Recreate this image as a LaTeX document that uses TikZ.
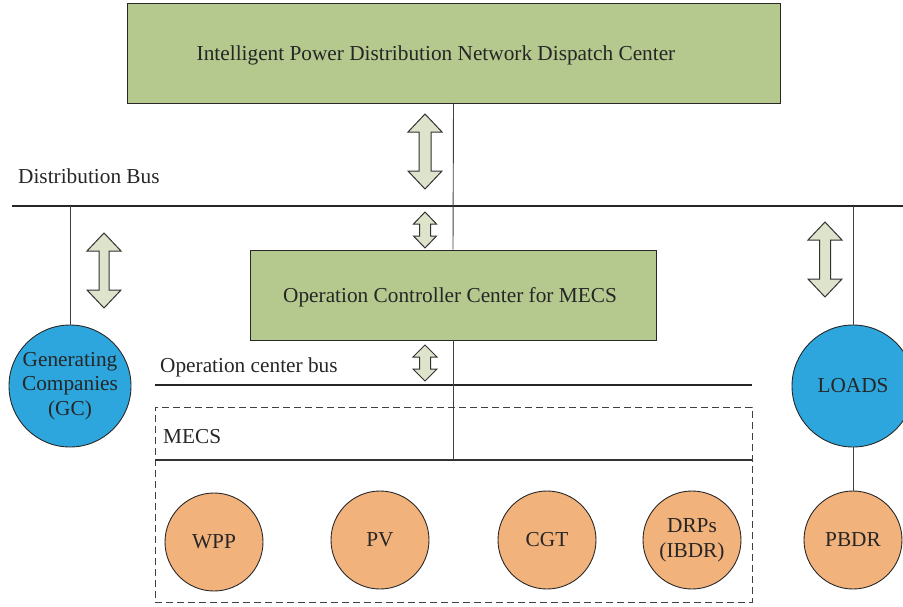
\documentclass[tikz,border=0pt]{standalone}
\usepackage{fontspec}
\setmainfont{Liberation Serif}
\definecolor{boxgreen}{RGB}{181,201,142}
\definecolor{gcblue}{RGB}{45,166,221}
\definecolor{unitorange}{RGB}{242,178,124}
\definecolor{arrowfill}{RGB}{222,227,203}
\definecolor{edge}{RGB}{40,40,40}
% double-headed block arrow: x, top y, bottom y, head half-width, shaft half-width, head length
\newcommand\blockarrow[6]{%
  \draw[arrowshape] (#1,#2) -- (#1+#4,#2+#6) -- (#1+#5,#2+#6) -- (#1+#5,#3-#6)
    -- (#1+#4,#3-#6) -- (#1,#3) -- (#1-#4,#3-#6) -- (#1-#5,#3-#6)
    -- (#1-#5,#2+#6) -- (#1-#4,#2+#6) -- cycle;}
\begin{document}
\begin{tikzpicture}[x=1pt,y=-1pt,
  centerbox/.style={draw=edge,line width=0.9pt,fill=boxgreen,inner sep=0pt},
  bigcircle/.style={circle,draw=edge,line width=0.9pt,fill=gcblue,minimum size=122pt,inner sep=0pt,align=center,font=\fontsize{21.3}{24.5}\selectfont,text=black!85},
  unit/.style={circle,draw=edge,line width=0.9pt,fill=unitorange,minimum size=98pt,inner sep=0pt,align=center,font=\fontsize{21.3}{25}\selectfont,text=black!85},
  busline/.style={line width=1.8pt,black!85},
  link/.style={line width=0.9pt,black!75},
  arrowshape/.style={draw=black!80,line width=1pt,fill=arrowfill,line join=miter},
  label/.style={font=\fontsize{21.3}{25}\selectfont,text=black!85,inner sep=0pt}]
\useasboundingbox (0,0) rectangle (903,606);

% control centres
\node[centerbox,minimum width=653pt,minimum height=100pt] (dispatch) at (453.5,53) {};
\node[label] (dispatchtext) at (436,55.5) {Intelligent Power Distribution Network Dispatch Center};
\node[centerbox,minimum width=406pt,minimum height=90pt] (ops) at (453,295) {};
\node[label] (opstext) at (450,297.5) {Operation Controller Center for MECS};

% buses
\coordinate (db-l) at (12,206);
\coordinate (db-r) at (903,206);
\draw[busline] (db-l) -- (db-r);
\node[label,anchor=base west] (dblabel) at (18,183) {Distribution Bus};

\coordinate (ob-l) at (155,385);
\coordinate (ob-r) at (752,385);
\draw[busline] (ob-l) -- (ob-r);
\node[label,anchor=base west] (oblabel) at (160,372) {Operation center bus};

% MECS area
\node[draw=black!75,dashed,dash pattern=on 7pt off 4pt,line width=0.9pt,minimum width=597pt,minimum height=195pt,inner sep=0pt] (mecs) at (453.5,504.5) {};
\node[label,anchor=base west] (mecslabel) at (163,443) {MECS};
\coordinate (mb-l) at (155,460);
\coordinate (mb-r) at (752,460);
\coordinate (mb-c) at (453,460);
\draw[link,line width=1.2pt,black!80] (mb-l) -- (mb-r);

% side entities
\node[bigcircle] (gc) at (70,386) {Generating\\Companies\\(GC)};
\node[bigcircle] (loads) at (853,386) {LOADS};
\node[unit] (pbdr) at (853,540) {PBDR};

% units inside MECS
\node[unit] (wpp) at (214,542) {WPP};
\node[unit] (pv) at (380,540) {PV};
\node[unit] (cgt) at (547,540) {CGT};
\node[unit] (drp) at (692,540) {DRPs\\(IBDR)};

% connections
\coordinate (gc-tap) at (70,206);
\coordinate (ld-tap) at (853,206);
\draw[link] (dispatch.south) -- (ops.north);
\draw[link] (ops.south) -- (mb-c);
\draw[link] (gc-tap) -- (gc.north);
\draw[link] (ld-tap) -- (loads.north);
\draw[link] (loads.south) -- (pbdr.north);

% information exchange arrows
\blockarrow{425}{114}{189}{17}{6}{18}
\blockarrow{425}{212}{248}{11.5}{5.5}{12}
\blockarrow{425}{345}{381}{12}{5.5}{12}
\blockarrow{104}{233}{308}{17}{5}{18}
\blockarrow{825}{222}{297}{17}{5.5}{18}
\end{tikzpicture}
\end{document}
